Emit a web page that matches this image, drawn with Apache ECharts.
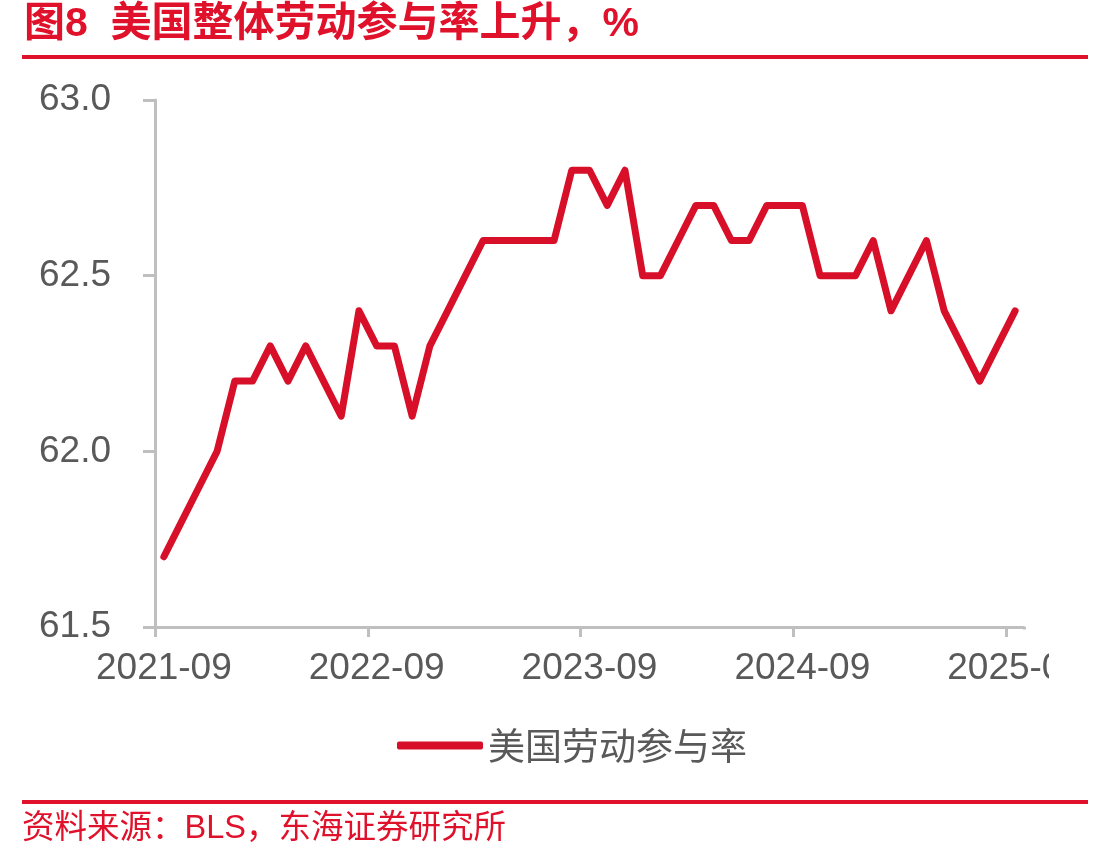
<!DOCTYPE html>
<html>
<head>
<meta charset="utf-8">
<script src="https://cdn.jsdelivr.net/npm/echarts@6/dist/echarts.min.js"></script>
<style>
html,body{margin:0;padding:0;background:#fff;}
#chart{width:1107px;height:865px;}
</style>
</head>
<body>
<div id="chart"></div>
<script>
const categories = [
  '2021-09','2021-10','2021-11','2021-12',
  '2022-01','2022-02','2022-03','2022-04','2022-05','2022-06','2022-07','2022-08','2022-09','2022-10','2022-11','2022-12',
  '2023-01','2023-02','2023-03','2023-04','2023-05','2023-06','2023-07','2023-08','2023-09','2023-10','2023-11','2023-12',
  '2024-01','2024-02','2024-03','2024-04','2024-05','2024-06','2024-07','2024-08','2024-09','2024-10','2024-11','2024-12',
  '2025-01','2025-02','2025-03','2025-04','2025-05','2025-06','2025-07','2025-08','2025-09'
];
const participationRate = [
  61.7, 61.8, 61.9, 62.0,
  62.2, 62.2, 62.3, 62.2, 62.3, 62.2, 62.1, 62.4, 62.3, 62.3, 62.1, 62.3,
  62.4, 62.5, 62.6, 62.6, 62.6, 62.6, 62.6, 62.8, 62.8, 62.7, 62.8, 62.5,
  62.5, 62.6, 62.7, 62.7, 62.6, 62.6, 62.7, 62.7, 62.7, 62.5, 62.5, 62.5,
  62.6, 62.4, 62.5, 62.6, 62.4, 62.3, 62.2, 62.3, 62.4
];
const yTicks = [61.5, 62.0, 62.5, 63.0];
const seriesName = '美国劳动参与率';
const titleText = '图8  美国整体劳动参与率上升，%';
const sourceText = '资料来源：BLS，东海证券研究所';

const RED = '#E0112B';
const LINE_RED = '#D80F28';
const GRAY_TEXT = '#595959';
const AXIS_GRAY = '#BFBFBF';
const LATIN = '"Liberation Sans", Arial, "Noto Sans CJK SC", sans-serif';

const chart = echarts.init(document.getElementById('chart'), null, {renderer: 'canvas'});
chart.setOption({
  backgroundColor: '#fff',
  animation: false,
  grid: {left: 155, right: 1107 - 1024, top: 100, bottom: 865 - 627, containLabel: false},
  xAxis: {
    type: 'category',
    data: categories,
    boundaryGap: true,
    axisLine: {show: true, lineStyle: {color: AXIS_GRAY, width: 3}},
    axisTick: {show: true, interval: 11, length: 10, lineStyle: {color: AXIS_GRAY, width: 3}},
    axisLabel: {interval: 11, margin: 23, color: GRAY_TEXT, fontSize: 37, fontFamily: LATIN},
    splitLine: {show: false}
  },
  yAxis: {
    type: 'value',
    min: yTicks[0],
    max: yTicks[yTicks.length - 1],
    interval: 0.5,
    axisLine: {show: true, lineStyle: {color: AXIS_GRAY, width: 3}},
    axisTick: {show: true, inside: false, length: 12, lineStyle: {color: AXIS_GRAY, width: 3}},
    axisLabel: {margin: 44, color: GRAY_TEXT, fontSize: 37, fontFamily: LATIN,
      formatter: v => v.toFixed(1)},
    splitLine: {show: false}
  },
  legend: {
    data: [{name: seriesName, icon: 'roundRect'}],
    left: 392,
    top: 722,
    itemWidth: 86,
    itemHeight: 8,
    textStyle: {color: GRAY_TEXT, fontSize: 37, fontFamily: '"Noto Sans CJK SC", sans-serif'}
  },
  series: [{
    name: seriesName,
    type: 'line',
    data: participationRate,
    symbol: 'none',
    lineStyle: {color: LINE_RED, width: 7, cap: 'round', join: 'round'},
    itemStyle: {color: LINE_RED}
  }],
  graphic: [
    {type: 'text', left: 24, top: 4, z: 10,
      style: {text: titleText, fill: RED, font: 'bold 41px "Liberation Sans", Arial, "Noto Sans CJK SC", sans-serif'}},
    {type: 'rect', shape: {x: 22, y: 55, width: 1066, height: 4}, style: {fill: RED}, z: 10},
    {type: 'rect', shape: {x: 22, y: 800, width: 1066, height: 4}, style: {fill: RED}, z: 10},
    {type: 'text', left: 22, top: 813, z: 10,
      style: {text: sourceText, fill: RED, font: '32.5px "Liberation Sans", Arial, "Noto Sans CJK SC", sans-serif'}},
    {type: 'rect', shape: {x: 1049, y: 640, width: 58, height: 60}, style: {fill: '#fff'}, z: 100},
    {type: 'rect', shape: {x: 1018, y: 629.5, width: 14, height: 12}, style: {fill: '#fff'}, z: 100}
  ]
});
</script>
</body>
</html>
